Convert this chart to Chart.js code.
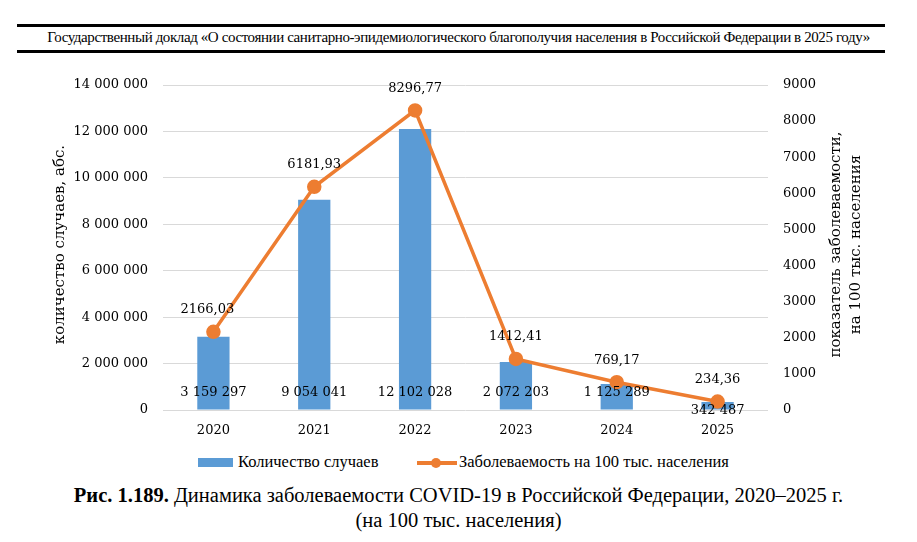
<!DOCTYPE html>
<html>
<head>
<meta charset="utf-8">
<script src="https://cdn.jsdelivr.net/npm/chart.js@4.4.0/dist/chart.umd.min.js"></script>
<style>
  body { margin: 0; background: #fff; width: 917px; height: 542px; position: relative; overflow: hidden; }
  .rule { position: absolute; left: 17px; width: 868px; height: 3px; background: #000; }
  .head { position: absolute; left: 0; width: 917px; top: 29px; text-align: center;
          font: 15px "Liberation Serif", serif; letter-spacing: -0.4px; color: #000; }
  #wrap { position: absolute; left: 0; top: 60px; width: 917px; height: 390px; }
  .legend { position: absolute; top: 452px; left: 0; width: 917px; font: 16.5px "Liberation Serif", serif; color: #000; }
  .leg { position: absolute; top: 0; white-space: nowrap; }
  .cap { position: absolute; left: 0; width: 917px; text-align: center; font: 20.5px "Liberation Serif", serif; color: #000; }
</style>
</head>
<body>
<div class="rule" style="top:24px"></div>
<div class="head">Государственный доклад «О состоянии санитарно-эпидемиологического благополучия населения в Российской Федерации в 2025 году»</div>
<div class="rule" style="top:50px"></div>

<div id="wrap"><canvas id="covidChart" width="917" height="390"></canvas></div>

<div class="legend">
  <div style="position:absolute;left:198px;top:6px;width:35px;height:9px;background:#5B9BD5"></div>
  <div class="leg" style="left:238px">Количество случаев</div>
  <div style="position:absolute;left:417px;top:9px;width:40px;height:4px;background:#ED7D31"></div>
  <div style="position:absolute;left:431px;top:6px;width:10px;height:10px;border-radius:50%;background:#ED7D31"></div>
  <div class="leg" style="left:459px">Заболеваемость на 100 тыс. населения</div>
</div>

<div class="cap" style="top:484px"><b>Рис. 1.189.</b> Динамика заболеваемости COVID-19 в Российской Федерации, 2020–2025 г.</div>
<div class="cap" style="top:509px">(на 100 тыс. населения)</div>

<script>
const years = ['2020', '2021', '2022', '2023', '2024', '2025'];
const cases = [3159297, 9054041, 12102028, 2072203, 1125289, 342487];
const incidence = [2166.03, 6181.93, 8296.77, 1412.41, 769.17, 234.36];
const caseLabels = ['3 159 297', '9 054 041', '12 102 028', '2 072 203', '1 125 289', '342 487'];
const incidenceLabels = ['2166,03', '6181,93', '8296,77', '1412,41', '769,17', '234,36'];

const tickFont = { family: 'DejaVu Serif', size: 13 };

function spaced(v) {
  return String(v).replace(/\B(?=(\d{3})+(?!\d))/g, ' ');
}

// value labels drawn on top of bars and points
const valueLabels = {
  id: 'valueLabels',
  afterDatasetsDraw(chart) {
    const ctx = chart.ctx;
    ctx.save();
    ctx.font = '13px "DejaVu Serif"';
    ctx.fillStyle = '#000';
    ctx.textAlign = 'center';
    ctx.textBaseline = 'middle';
    const base = chart.scales.y.getPixelForValue(0);
    chart.getDatasetMeta(0).data.forEach((bar, i) => {
      const y = Math.max(base - 17, bar.y + 9);
      ctx.fillText(caseLabels[i], bar.x, y);
    });
    chart.getDatasetMeta(1).data.forEach((pt, i) => {
      ctx.fillText(incidenceLabels[i], pt.x - (i === 0 ? 6 : 0), pt.y - 22);
    });
    ctx.restore();
  }
};

// axis titles (both read bottom-to-top)
const axisTitles = {
  id: 'axisTitles',
  afterDraw(chart) {
    const ctx = chart.ctx;
    const cy = (chart.chartArea.top + chart.chartArea.bottom) / 2 - 3;
    ctx.save();
    ctx.font = '15px "DejaVu Serif"';
    ctx.fillStyle = '#000';
    ctx.textAlign = 'center';
    ctx.textBaseline = 'middle';
    const draw = (text, x) => {
      ctx.save();
      ctx.translate(x, cy);
      ctx.rotate(-Math.PI / 2);
      ctx.fillText(text, 0, 0);
      ctx.restore();
    };
    draw('количество случаев, абс.', 60);
    draw('показатель заболеваемости,', 836);
    draw('на 100 тыс. населения', 856);
    ctx.restore();
  }
};

const ctx = document.getElementById('covidChart').getContext('2d');
new Chart(ctx, {
  data: {
    labels: years,
    datasets: [
      {
        type: 'bar',
        label: 'Количество случаев',
        data: cases,
        backgroundColor: '#5B9BD5',
        yAxisID: 'y',
        barPercentage: 0.32,
        categoryPercentage: 1,
        order: 2
      },
      {
        type: 'line',
        label: 'Заболеваемость на 100 тыс. населения',
        data: incidence,
        borderColor: '#ED7D31',
        backgroundColor: '#ED7D31',
        borderWidth: 3.5,
        pointRadius: 5.5,
        pointHoverRadius: 5.5,
        tension: 0,
        yAxisID: 'y1',
        order: 1
      }
    ]
  },
  options: {
    responsive: false,
    animation: false,
    layout: { padding: { top: 25, left: 0, right: 0, bottom: 0 } },
    plugins: {
      legend: { display: false },
      tooltip: { enabled: false }
    },
    scales: {
      x: {
        offset: true,
        grid: { display: false, drawTicks: false },
        border: { display: false },
        ticks: { font: tickFont, color: '#000', padding: 13 },
        afterFit(scale) { scale.height = 40; }
      },
      y: {
        position: 'left',
        min: 0,
        max: 14000000,
        ticks: { stepSize: 2000000, font: tickFont, color: '#000', padding: 15, callback: v => spaced(v) },
        grid: { color: '#D9D9D9', lineWidth: 1, drawTicks: false },
        border: { display: false },
        afterFit(scale) { scale.width = 163; }
      },
      y1: {
        position: 'right',
        min: 0,
        max: 9000,
        ticks: { stepSize: 1000, font: tickFont, color: '#000', padding: 15, callback: v => String(v) },
        grid: { display: false, drawTicks: false },
        border: { display: false },
        afterFit(scale) { scale.width = 149; }
      }
    }
  },
  plugins: [valueLabels, axisTitles]
});
</script>
</body>
</html>
